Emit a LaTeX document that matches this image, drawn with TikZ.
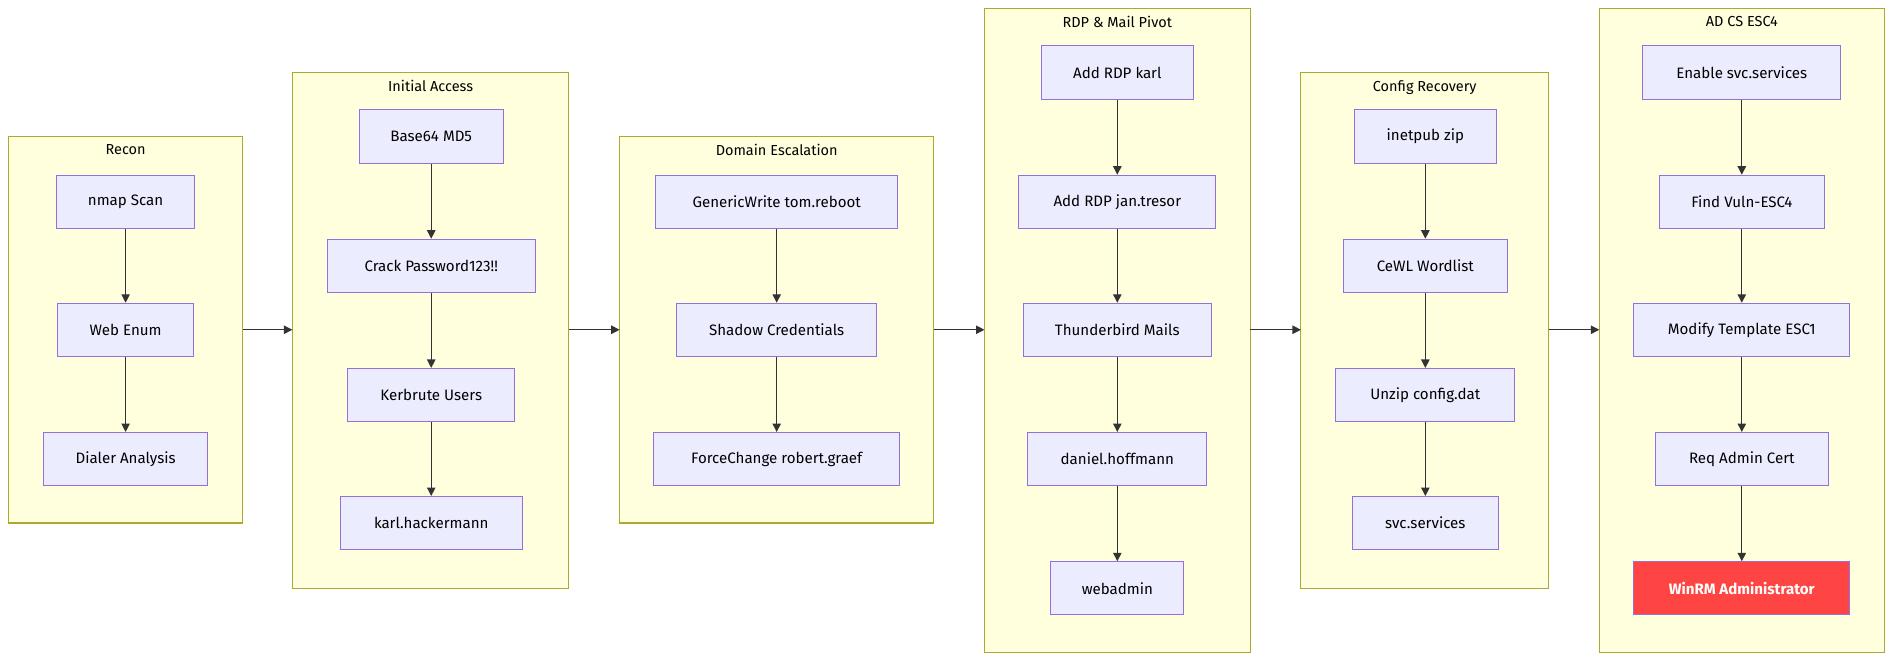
\documentclass[tikz,border=0pt]{standalone}
\usepackage{fontspec}
\setmainfont{Fira Sans}
\usetikzlibrary{arrows.meta}
\definecolor{cfill}{HTML}{FFFFDE}
\definecolor{cdraw}{HTML}{AAAA33}
\definecolor{nfill}{HTML}{ECECFF}
\definecolor{ndraw}{HTML}{9370DB}
\definecolor{edge}{HTML}{333333}
\definecolor{red}{HTML}{FF4444}
\begin{document}
\begin{tikzpicture}[x=1pt,y=-1pt,
 clus/.style={draw=cdraw,fill=cfill,line width=0.9pt},
 ctitle/.style={font=\fontsize{12}{14}\selectfont,anchor=north},
 box/.style={draw=ndraw,fill=nfill,line width=0.8pt,minimum height=44pt,inner sep=0pt,font=\fontsize{12.5}{15}\selectfont},
 ar/.style={draw=edge,line width=0.9pt,-{Triangle[length=7pt,width=7pt]}}]
\useasboundingbox (0,0) rectangle (1568,547);
% clusters
\draw[clus] (7,113) rectangle (201,433); \node[ctitle] (t1) at (104,116) {Recon};
\draw[clus] (242,60) rectangle (471,487); \node[ctitle] (t2) at (356.5,63) {Initial Access};
\draw[clus] (513,113) rectangle (773,433); \node[ctitle] (t3) at (643,116) {Domain Escalation};
\draw[clus] (815,7) rectangle (1035,540); \node[ctitle] (t4) at (925,10) {RDP \& Mail Pivot};
\draw[clus] (1077,60) rectangle (1282,487); \node[ctitle] (t5) at (1179.5,63) {Config Recovery};
\draw[clus] (1324,7) rectangle (1560,540); \node[ctitle] (t6) at (1442,10) {AD CS ESC4};
% anchors of clusters
\coordinate (c1r) at (201,273); \coordinate (c2l) at (242,273); \coordinate (c2r) at (471,273);
\coordinate (c3l) at (513,273); \coordinate (c3r) at (773,273); \coordinate (c4l) at (815,273);
\coordinate (c4r) at (1035,273); \coordinate (c5l) at (1077,273); \coordinate (c5r) at (1282,273);
\coordinate (c6l) at (1324,273);
% nodes
\node[box,minimum width=114pt] (a1) at (104,167) {nmap Scan};
\node[box,minimum width=112pt] (a2) at (104,273) {Web Enum};
\node[box,minimum width=136pt] (a3) at (104,380) {Dialer Analysis};
\node[box,minimum width=119pt] (b1) at (357,113) {Base64 MD5};
\node[box,minimum width=172pt] (b2) at (357,220) {Crack Password123!!};
\node[box,minimum width=138pt] (b3) at (357,327) {Kerbrute Users};
\node[box,minimum width=151pt] (b4) at (357,433) {karl.hackermann};
\node[box,minimum width=200pt] (d1) at (643,167) {GenericWrite tom.reboot};
\node[box,minimum width=166pt] (d2) at (643,273) {Shadow Credentials};
\node[box,minimum width=204pt] (d3) at (643,380) {ForceChange robert.graef};
\node[box,minimum width=126pt] (r1) at (925,60) {Add RDP karl};
\node[box,minimum width=163pt] (r2) at (925,167) {Add RDP jan.tresor};
\node[box,minimum width=156pt] (r3) at (925,273) {Thunderbird Mails};
\node[box,minimum width=148pt] (r4) at (925,380) {daniel.hoffmann};
\node[box,minimum width=110pt] (r5) at (925,487) {webadmin};
\node[box,minimum width=117pt] (g1) at (1180,113) {inetpub zip};
\node[box,minimum width=136pt] (g2) at (1180,220) {CeWL Wordlist};
\node[box,minimum width=148pt] (g3) at (1180,327) {Unzip config.dat};
\node[box,minimum width=121pt] (g4) at (1180,433) {svc.services};
\node[box,minimum width=164pt] (e1) at (1442,60) {Enable svc.services};
\node[box,minimum width=137pt] (e2) at (1442,167) {Find Vuln-ESC4};
\node[box,minimum width=179pt] (e3) at (1442,273) {Modify Template ESC1};
\node[box,minimum width=143pt] (e4) at (1442,380) {Req Admin Cert};
\node[box,minimum width=179pt,fill=red,text=white,font=\fontsize{12.5}{15}\selectfont\bfseries] (e5) at (1442,487) {WinRM Administrator};
% edges
\draw[ar] (a1) -- (a2); \draw[ar] (a2) -- (a3);
\draw[ar] (b1) -- (b2); \draw[ar] (b2) -- (b3); \draw[ar] (b3) -- (b4);
\draw[ar] (d1) -- (d2); \draw[ar] (d2) -- (d3);
\draw[ar] (r1) -- (r2); \draw[ar] (r2) -- (r3); \draw[ar] (r3) -- (r4); \draw[ar] (r4) -- (r5);
\draw[ar] (g1) -- (g2); \draw[ar] (g2) -- (g3); \draw[ar] (g3) -- (g4);
\draw[ar] (e1) -- (e2); \draw[ar] (e2) -- (e3); \draw[ar] (e3) -- (e4); \draw[ar] (e4) -- (e5);
\draw[ar] (c1r) -- (c2l); \draw[ar] (c2r) -- (c3l); \draw[ar] (c3r) -- (c4l);
\draw[ar] (c4r) -- (c5l); \draw[ar] (c5r) -- (c6l);
\end{tikzpicture}
\end{document}
